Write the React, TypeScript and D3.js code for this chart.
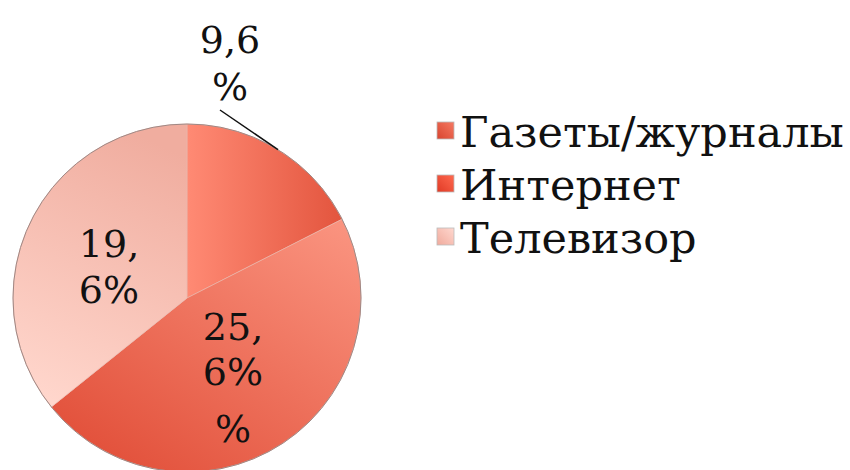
import React from "react";
import * as d3 from "d3";

const categories = ["Газеты/журналы", "Интернет", "Телевизор"];
const values = [9.6, 25.6, 19.6];
const labelLines = [["9,6", "%"], ["25,", "6%", "%"], ["19,", "6%"]];

const width = 850;
const height = 470;
const cx = 187;
const cy = 298;
const radius = 174;
const font = "'DejaVu Serif', serif";

// gradient stops per slice: [light, dark] and direction
const grads = [
  { light: "#ff8a74", dark: "#e3553e", x1: 0, y1: 0, x2: 1, y2: 0 },
  { light: "#fb9682", dark: "#e2503a", x1: 1, y1: 0, x2: 0.2, y2: 1 },
  { light: "#ffd6cc", dark: "#f0ad9f", x1: 0.3, y1: 1, x2: 0.6, y2: 0 },
];
const legendGrads = [
  { light: "#f57a63", dark: "#d8442f" },
  { light: "#ff6a50", dark: "#e03a25" },
  { light: "#ffd8cf", dark: "#f0aa9c" },
];

// label line placement
const labelPos = [
  { x: 230, y: 53, lh: [47] },
  { x: 233, y: 340, lh: [45, 57] },
  { x: 109, y: 257, lh: [46] },
];

export default function App() {
  const pie = d3
    .pie<number>()
    .sort(null)
    .value((d) => d)(values);
  const arc = d3.arc<d3.PieArcDatum<number>>().innerRadius(0).outerRadius(radius);

  const legendY = d3
    .scalePoint<string>()
    .domain(categories)
    .range([147, 253]);

  // leader line for the small slice
  const mid = (pie[0].startAngle + pie[0].endAngle) / 2;
  const lineEnd = [radius * Math.sin(mid), -radius * Math.cos(mid)];
  const lineStart = [220 - cx, 110 - cy];

  return (
    <svg width={width} height={height} style={{ position: "absolute", left: 0, top: 0 }}>
      <defs>
        {grads.map((g, i) => (
          <linearGradient key={i} id={`g${i}`} x1={g.x1} y1={g.y1} x2={g.x2} y2={g.y2}>
            <stop offset="0%" stopColor={g.light} />
            <stop offset="100%" stopColor={g.dark} />
          </linearGradient>
        ))}
        {legendGrads.map((g, i) => (
          <linearGradient key={"l" + i} id={`lg${i}`} x1="1" y1="0" x2="0" y2="1">
            <stop offset="0%" stopColor={g.light} />
            <stop offset="100%" stopColor={g.dark} />
          </linearGradient>
        ))}
      </defs>
      <rect width={width} height={height} fill="#fff" />
      <g transform={`translate(${cx},${cy})`}>
        {pie.map((p, i) => (
          <path key={i} d={arc(p) || ""} fill={`url(#g${i})`} stroke="#e8b8ae" strokeWidth={0.6} />
        ))}
        <circle r={radius} fill="none" stroke="#a08884" strokeWidth={1} />
        <line
          x1={lineStart[0]}
          y1={lineStart[1]}
          x2={lineEnd[0]}
          y2={lineEnd[1]}
          stroke="#111"
          strokeWidth={1.5}
        />
      </g>
      {labelLines.map((lines, i) => {
        const lp = labelPos[i];
        let y = lp.y;
        return (
          <text key={i} fontFamily={font} fontSize={38} fill="#111" textAnchor="middle">
            {lines.map((t, j) => {
              if (j > 0) y += lp.lh[j - 1];
              return (
                <tspan key={j} x={lp.x} y={y}>
                  {t}
                </tspan>
              );
            })}
          </text>
        );
      })}
      {categories.map((c, i) => (
        <g key={c} transform={`translate(437,${legendY(c)})`}>
          <rect x={0} y={-25} width={17} height={17} fill={`url(#lg${i})`} stroke="#bbb" strokeWidth={0.8} />
          <text x={23} y={0} fontFamily={font} fontSize={43} fill="#111">
            {c}
          </text>
        </g>
      ))}
    </svg>
  );
}
